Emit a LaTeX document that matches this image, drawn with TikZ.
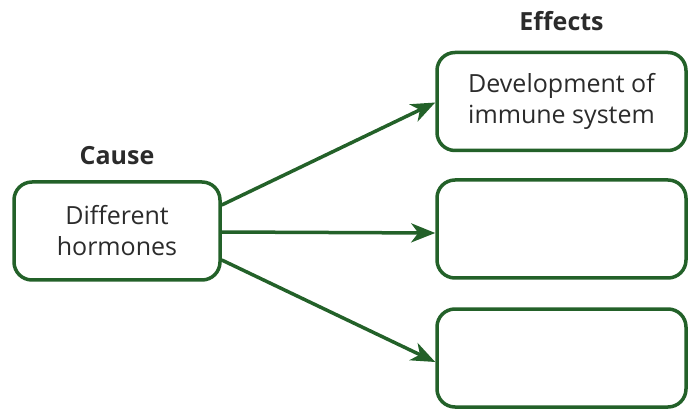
\documentclass[tikz,border=0pt]{standalone}
\usepackage{fontspec}
\setmainfont{Open Sans}
\usepackage{tikz}
\usetikzlibrary{arrows.meta, positioning}
\definecolor{boxgreen}{HTML}{236129}
\definecolor{textgray}{HTML}{2B2B2B}

\begin{document}
\begin{tikzpicture}[
  x=1pt, y=-1pt,
  box/.style={rectangle, draw=boxgreen, line width=3.5pt, rounded corners=18pt, minimum width=206pt, minimum height=98pt, align=center, font=\fontsize{25}{31}\selectfont, text=textgray},
  effect/.style={box, minimum width=249pt},
  head/.style={font=\fontsize{25}{30}\selectfont\bfseries, text=textgray},
  arrow/.style={-{Stealth[length=24pt, width=19pt, inset=7pt]}, line width=3.5pt, draw=boxgreen}
]
  \useasboundingbox (0,0) rectangle (689,409);

  \node[box] (cause) at (117,231) {Different\\hormones};
  \node[head, above=12pt of cause] (causelbl) {Cause};

  \node[effect] (e1) at (561.5,101.5) {Development of\\immune system};
  \node[effect] (e2) at (561.5,229) {};
  \node[effect] (e3) at (561.5,358) {};
  \node[head, above=16pt of e1] (effectslbl) {Effects};

  \draw[arrow] ([yshift=26pt]cause.east) -- ([yshift=-1pt]e1.west);
  \draw[arrow] ([yshift=-1pt]cause.east) -- ([yshift=-4pt]e2.west);
  \draw[arrow] ([yshift=-29pt]cause.east) -- ([yshift=-4pt]e3.west);
\end{tikzpicture}
\end{document}
